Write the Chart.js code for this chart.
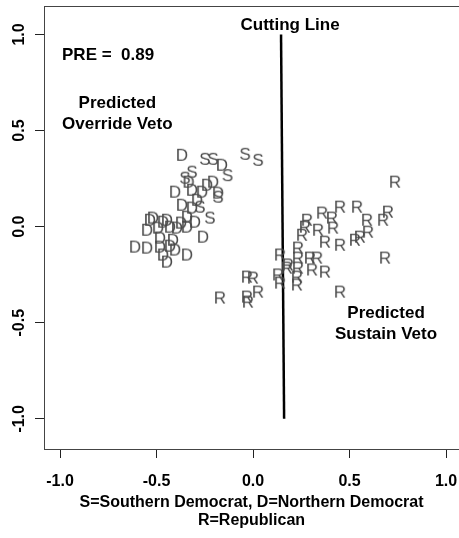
<!DOCTYPE html>
<html>
<head>
<meta charset="utf-8">
<script src="https://cdn.jsdelivr.net/npm/chart.js@4"></script>
<style>
  html, body { margin: 0; padding: 0; background: #fff; }
</style>
</head>
<body>
<canvas id="vetoChart" width="459" height="538"></canvas>
<script>
// Punti: D = democratici del nord, S = del sud, R = repubblicani
const demX = [-0.368, -0.161, -0.207, -0.181, -0.404, -0.316, -0.264, -0.368, -0.316, -0.342,
  -0.301, -0.534, -0.446, -0.342, -0.394, -0.549, -0.492, -0.259, -0.482, -0.415,
  -0.611, -0.549, -0.482, -0.404, -0.342, -0.466, -0.446, -0.466, -0.430, -0.518,
  -0.430, -0.373, -0.290, -0.238, -0.334];
const demY = [0.374, 0.322, 0.234, 0.177, 0.182, 0.192, 0.182, 0.114, 0.099, 0.052,
  0.026, 0.036, 0.036, 0.000, -0.005, -0.016, -0.005, -0.052, -0.057, -0.068,
  -0.104, -0.109, -0.104, -0.119, -0.145, -0.145, -0.182, 0.026, 0.000, 0.047,
  -0.099, 0.021, 0.140, 0.218, 0.234];

const southX = [-0.041, 0.026, -0.249, -0.207, -0.132, -0.316, -0.352, -0.275, -0.223, -0.181];
const southY = [0.379, 0.348, 0.353, 0.353, 0.268, 0.286, 0.255, 0.104, 0.047, 0.156];

const repX = [0.736, 0.451, 0.539, 0.358, 0.409, 0.280, 0.591, 0.674, 0.699, 0.269,
  0.337, 0.415, 0.254, 0.373, 0.451, 0.528, 0.596, 0.554, 0.140, 0.233,
  0.233, 0.295, 0.332, 0.176, 0.233, 0.306, 0.373, 0.130, 0.140, 0.228,
  0.684, 0.451, -0.031, 0.000, 0.026, -0.171, -0.031, -0.026, 0.228, 0.181];
const repY = [0.234, 0.104, 0.104, 0.073, 0.047, 0.036, 0.036, 0.036, 0.078, 0.000,
  -0.016, -0.005, -0.042, -0.078, -0.094, -0.068, -0.026, -0.052, -0.145, -0.109,
  -0.161, -0.161, -0.161, -0.213, -0.213, -0.223, -0.234, -0.249, -0.291, -0.301,
  -0.161, -0.338, -0.260, -0.265, -0.338, -0.369, -0.364, -0.390, -0.260, -0.197];

// linea di taglio
const cutX = [0.145, 0.161];
const cutY = [1.0, -1.0];

const xTicks = [-1.0, -0.5, 0.0, 0.5, 1.0];
const yTicks = [-1.0, -0.5, 0.0, 0.5, 1.0];

const FONT = '"Liberation Sans", Arial, sans-serif';

// testi dentro il grafico
const notes = [
  { lines: ['Cutting Line'], x: 0.192, y: 1.049 },
  { lines: ['PRE =  0.89'], x: -0.751, y: 0.894 },
  { lines: ['Predicted', 'Override Veto'], x: -0.703, y: 0.644 },
  { lines: ['Predicted', 'Sustain Veto'], x: 0.689, y: -0.452 }
];

function toPoints(xs, ys) {
  return xs.map((x, i) => ({ x: x, y: ys[i] }));
}

// icona con la lettera, usata come pointStyle
function letterIcon(ch) {
  const c = document.createElement('canvas');
  c.width = 22;
  c.height = 22;
  const g = c.getContext('2d');
  g.font = '17px ' + FONT;
  g.fillStyle = '#4a4a4a';
  g.textAlign = 'center';
  g.textBaseline = 'alphabetic';
  const m = g.measureText(ch);
  const h = m.actualBoundingBoxAscent;
  g.fillText(ch, 11, 11 + h / 2);
  return c;
}

const textPlugin = {
  id: 'vetoText',
  afterDraw(chart) {
    const ctx = chart.ctx;
    const xs = chart.scales.x;
    const ys = chart.scales.y;
    const area = chart.chartArea;

    ctx.save();
    // bordo superiore del riquadro
    ctx.strokeStyle = '#444';
    ctx.lineWidth = 1;
    ctx.beginPath();
    ctx.moveTo(area.left, area.top + 0.5);
    ctx.lineTo(area.right, area.top + 0.5);
    ctx.stroke();

    ctx.fillStyle = '#000';
    ctx.textAlign = 'center';
    ctx.textBaseline = 'middle';

    // etichette asse y ruotate
    ctx.font = 'bold 16px ' + FONT;
    ys.ticks.forEach(t => {
      const py = ys.getPixelForValue(t.value);
      ctx.save();
      ctx.translate(20, py);
      ctx.rotate(-Math.PI / 2);
      ctx.fillText(t.value.toFixed(1), 0, 0);
      ctx.restore();
    });

    ctx.font = 'bold 17px ' + FONT;
    notes.forEach(n => {
      const px = xs.getPixelForValue(n.x);
      const py = ys.getPixelForValue(n.y);
      n.lines.forEach((line, i) => {
        ctx.fillText(line, px, py + i * 21);
      });
    });
    ctx.restore();
  }
};

const ctx = document.getElementById('vetoChart').getContext('2d');

new Chart(ctx, {
  type: 'scatter',
  data: {
    datasets: [
      {
        label: 'D',
        data: toPoints(demX, demY),
        pointStyle: letterIcon('D'),
        pointRadius: 8
      },
      {
        label: 'S',
        data: toPoints(southX, southY),
        pointStyle: letterIcon('S'),
        pointRadius: 8
      },
      {
        label: 'R',
        data: toPoints(repX, repY),
        pointStyle: letterIcon('R'),
        pointRadius: 8
      },
      {
        label: 'Cutting Line',
        type: 'line',
        data: toPoints(cutX, cutY),
        showLine: true,
        borderColor: '#000',
        borderWidth: 2.5,
        pointRadius: 0
      }
    ]
  },
  options: {
    responsive: false,
    animation: false,
    layout: { autoPadding: false, padding: { left: 35, top: 6, right: 0, bottom: 0 } },
    plugins: {
      legend: { display: false },
      tooltip: { enabled: false }
    },
    scales: {
      x: {
        type: 'linear',
        min: -1.083,
        max: 1.067,
        afterBuildTicks: s => { s.ticks = xTicks.map(v => ({ value: v })); },
        afterFit: s => {
          // altezza fissa dell'asse e niente margine extra ai lati
          s.height = 89;
          s.paddingLeft = 0;
          s.paddingRight = 0;
        },
        grid: { drawOnChartArea: false, tickLength: 9, tickColor: '#222' },
        border: { display: true, color: '#444', width: 1 },
        ticks: {
          padding: 14,
          color: '#000',
          font: { family: FONT, size: 16, weight: 'bold' },
          maxRotation: 0,
          callback: v => v.toFixed(1)
        },
        title: {
          display: true,
          text: ['S=Southern Democrat, D=Northern Democrat', 'R=Republican'],
          color: '#000',
          font: { family: FONT, size: 16, weight: 'bold', lineHeight: 1.125 },
          padding: { top: 0, bottom: 8 }
        }
      },
      y: {
        type: 'linear',
        min: -1.157,
        max: 1.148,
        afterBuildTicks: s => { s.ticks = yTicks.map(v => ({ value: v })); },
        afterFit: s => {
          s.paddingTop = 0;
          s.paddingBottom = 0;
        },
        grid: { drawOnChartArea: false, tickLength: 9, tickColor: '#222' },
        border: { display: true, color: '#444', width: 1 },
        ticks: { display: false }
      }
    }
  },
  plugins: [textPlugin]
});
</script>
</body>
</html>
